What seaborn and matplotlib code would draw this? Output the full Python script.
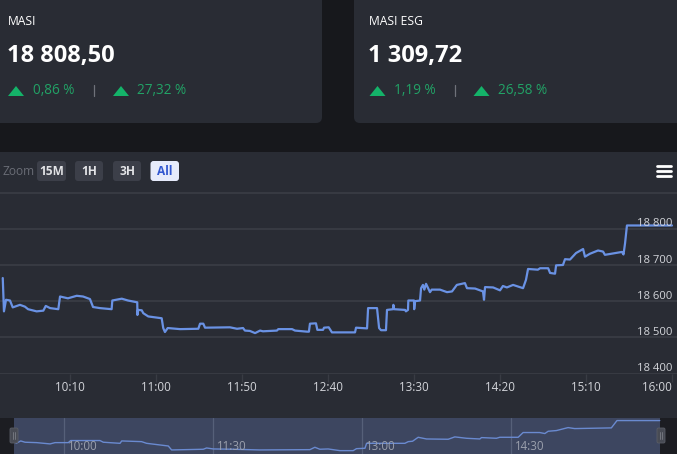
import matplotlib
matplotlib.use("Agg")
import matplotlib.pyplot as plt
import pandas as pd
import seaborn as sns
from matplotlib.patches import FancyBboxPatch, Polygon, Rectangle

# minutes after 09:00
minutes = [30.9, 31.6, 32.8, 35.1, 36.7, 40.9, 43.8, 45.6, 50.6, 54.5, 55.9, 58.4, 63.2, 64.2, 68.8,
           73.9, 77.6, 81.6, 83.4, 87.4, 94.2, 94.6, 100.1, 103.7, 109.1, 109.2, 109.5, 111.7, 112.6,
           115.5, 123.3, 124.2, 125.2, 126.8, 134, 144.6, 145.6, 147.5, 148.5, 163, 167.1, 170.6,
           171.7, 174.6, 177.6, 180.5, 182.2, 190.3, 191.1, 199.1, 200.8, 207.8, 208.9, 209.5, 213,
           213.8, 217.1, 217.7, 220.4, 222.3, 235.7, 236.3, 242.7, 243.3, 248.5, 249.7, 250.8, 253.7,
           254.3, 257.8, 258, 258.4, 264.8, 265.3, 266.5, 266.7, 270, 270.1, 270.6, 273.5, 274.1,
           275.2, 276, 277, 279.3, 280.3, 285.1, 289.2, 292.1, 294.9, 299.6, 300.8, 305.5, 310.1,
           310.7, 311.3, 316, 320, 321.7, 324, 327.6, 333.4, 335.1, 336.3, 342, 343.3, 348, 349.1,
           352, 352.6, 356.6, 357.8, 360.7, 364.2, 368.3, 369.4, 372.3, 377, 379.9, 381, 390.9,
           391.8, 392.7, 393.8, 420]
masi = [18664, 18572, 18604, 18602, 18583, 18590, 18585, 18578, 18572, 18574, 18587, 18581, 18578, 18613, 18608,
        18615, 18613, 18606, 18584, 18581, 18578, 18602, 18607, 18602, 18597, 18562, 18576, 18575, 18567,
        18558, 18553, 18526, 18515, 18526, 18523, 18524, 18538, 18538, 18527, 18528, 18524, 18526,
        18519, 18518, 18512, 18519, 18517, 18519, 18523, 18523, 18519, 18516, 18516, 18538, 18539,
        18521, 18521, 18527, 18528, 18514, 18514, 18527, 18525, 18581, 18581, 18526, 18520, 18520,
        18576, 18578, 18590, 18578, 18576, 18572, 18576, 18602, 18602, 18578, 18600, 18602, 18636,
        18645, 18632, 18648, 18625, 18632, 18632, 18625, 18627, 18645, 18650, 18636, 18635, 18627,
        18604, 18639, 18638, 18630, 18642, 18638, 18645, 18636, 18659, 18689, 18687, 18691, 18691, 18678,
        18676, 18699, 18700, 18716, 18715, 18733, 18744, 18723, 18731, 18740, 18737, 18728, 18736,
        18729, 18760, 18809, 18809]

# navigator series is a coarser, smoothed copy of the day
nav_minutes = [31.4, 34.2, 36.8, 43.8, 51.9, 54.9, 62.9, 64.3, 82, 84, 94.1, 95.1, 107.1, 110.1, 123.2, 125.2,
               144.3, 146.3, 150.3, 162.4, 178.4, 208.6, 211.6, 214.6, 219.6, 226.7, 234.7, 236.7, 241.8, 242.8,
               265.9, 267.9, 270.5, 273.9, 278.9, 292, 296, 303, 311.1, 312.1, 321.1, 323.1, 334.2, 337.2,
               347.2, 350.3, 352.3, 357.3, 364.3, 368.3, 390.4, 393.8, 419.6]
nav_values = [18578, 18602, 18589, 18585, 18572, 18585, 18585, 18606, 18606, 18589, 18578, 18602, 18595, 18578,
              18551, 18511, 18518, 18531, 18521, 18518, 18511, 18514, 18538, 18518, 18521, 18504, 18504, 18524,
              18528, 18578, 18578, 18595, 18599, 18639, 18622, 18619, 18643, 18629, 18622, 18636, 18629, 18639,
              18639, 18687, 18687, 18677, 18700, 18707, 18737, 18727, 18734, 18808, 18808]

y_ticks = [18400, 18500, 18600, 18700, 18800, 18900]
y_labels = ["18 400", "18 500", "18 600", "18 700", "18 800", ""]
x_ticks = [70, 120, 170, 220, 270, 320, 370, 420]
x_labels = ["10:10", "11:00", "11:50", "12:40", "13:30", "14:20", "15:10", "16:00"]
nav_ticks = [60, 150, 240, 330]
nav_labels = ["10:00", "11:30", "13:00", "14:30"]

df = pd.DataFrame({"minute": minutes, "masi": masi})
nav_df = pd.DataFrame({"minute": nav_minutes, "masi": nav_values})

PAGE = "#17181c"
CARD = "#292c34"
GREEN_TXT = "#22a266"
GREEN = "#14b369"
LINE = "#6a92e4"
GRID = "#393c44"
W, H = 677, 454

sns.set_theme(style="dark")
plt.rcParams["font.family"] = ["Open Sans", "DejaVu Sans"]

fig = plt.figure(figsize=(W / 100, H / 100), dpi=100, facecolor=PAGE)


def axes_px(left, top, right, bottom):
    return fig.add_axes([left / W, 1 - bottom / H, (right - left) / W, (bottom - top) / H])


# page furniture in pixel coordinates
bg = fig.add_axes([0, 0, 1, 1], facecolor=PAGE)
bg.set_xlim(0, W)
bg.set_ylim(H, 0)
bg.axis("off")


def rounded(x0, y0, x1, y1, r, color, **kw):
    bg.add_patch(FancyBboxPatch((x0 + r, y0 + r), x1 - x0 - 2 * r, y1 - y0 - 2 * r,
                                boxstyle=f"round,pad={r},rounding_size={r}",
                                fc=color, ec="none", **kw))


rounded(-20, -20, 322, 123, 6, CARD)
rounded(354, -20, 700, 123, 6, CARD)
bg.add_patch(Rectangle((0, 152), W, H - 152, fc=CARD, ec="none"))


def card(x, name, value, pct1, pct2, sep_x, tri2_x, pct2_x):
    bg.text(x - 0.5, 21.5, name, color="white", fontsize=8.7, va="center")
    bg.text(x - 1, 56, value, color="white", fontsize=17, fontweight="bold", va="center")
    for tx in (x, tri2_x):
        bg.add_patch(Polygon([(tx, 96), (tx + 16, 96), (tx + 8, 86)], fc=GREEN, ec="none"))
    bg.text(x + 25, 91, pct1, color=GREEN_TXT, fontsize=9.8, va="center")
    bg.plot([sep_x, sep_x], [85, 96], color="#6f727a", lw=0.9)
    bg.text(pct2_x, 91, pct2, color=GREEN_TXT, fontsize=9.8, va="center")


card(8, "MASI", "18 808,50", "0,86 %", "27,32 %", 93.5, 113, 137)
card(369.5, "MASI ESG", "1 309,72", "1,19 %", "26,58 %", 454.5, 473.5, 498)

# zoom buttons
bg.text(2.5, 171.5, "Zoom", color="#6a6d76", fontsize=8.6, va="center")
buttons = [("15M", 37, 66), ("1H", 75, 103), ("3H", 113, 141), ("All", 150.5, 179)]
for label, x0, x1 in buttons:
    active = label == "All"
    rounded(x0, 161, x1, 181, 3, "#e6ebfb" if active else "#3c3f49")
    bg.text((x0 + x1) / 2, 171.5, label, color="#3358d0" if active else "#e2e3e6",
            fontsize=8.6, fontweight="bold", ha="center", va="center")

# menu icon
for y in (166, 171, 176):
    bg.plot([657, 671], [y, y], color="white", lw=2.0, solid_capstyle="round")

# main chart
ax = axes_px(0, 192.5, W, 373.7)
ax.patch.set_alpha(0)
sns.lineplot(data=df, x="minute", y="masi", color=LINE, lw=1.6, estimator=None, sort=False, ax=ax)
ax.set_xlim(29.3, 422.9)
ax.set_ylim(18400, 18900)
ax.set_xlabel("")
ax.set_ylabel("")
ax.set_yticks(y_ticks)
ax.set_yticklabels([])
ax.grid(axis="y", color=GRID, lw=1.3)
ax.grid(axis="x", visible=False)
ax.set_axisbelow(True)
for s in ax.spines.values():
    s.set_visible(False)
ax.tick_params(axis="y", length=0)
ax.set_xticks(x_ticks)
ax.set_xticklabels(x_labels, color="#d3d5da", fontsize=8.4)
ax.tick_params(axis="x", length=5.8, width=0.9, color=GRID, pad=-0.5, bottom=True)
ax.get_xticklabels()[-1].set_ha("right")
ax.get_xticklabels()[-1].set_x(423)
for v, lab in zip(y_ticks, y_labels):
    ax.annotate(lab, xy=(672.5 / W, v), xycoords=ax.get_yaxis_transform(), xytext=(0, 3.5),
                textcoords="offset points", ha="right", va="center", color="#d3d5da", fontsize=8.1)

# navigator
nav = axes_px(0, 418, W, H)
nav.set_facecolor("#1c1d22")
nav.axvspan(30, 420, color="#3d4660", lw=0, zorder=0)
sns.lineplot(data=nav_df, x="minute", y="masi", color="#6a8ad0", lw=1.0, estimator=None, sort=False, ax=nav)
nav.set_xlim(21.7, 430)
nav.set_ylim(18470, 18834)
nav.set_xlabel("")
nav.set_ylabel("")
nav.set_yticks([])
nav.set_xticks(nav_ticks)
nav.set_xticklabels([])
nav.tick_params(axis="x", length=0)
nav.grid(axis="x", color="#566079", lw=0.9)
nav.grid(axis="y", visible=False)
nav.set_axisbelow(True)
for s in nav.spines.values():
    s.set_visible(False)
for t, lab in zip(nav_ticks, nav_labels):
    nav.annotate(lab, xy=(t, 0.2), xycoords=nav.get_xaxis_transform(), xytext=(3, 0),
                 textcoords="offset points", color="#9ba0ad", fontsize=8.3, va="center")

# navigator handles, on top of everything
top = fig.add_axes([0, 0, 1, 1])
top.patch.set_alpha(0)
top.set_xlim(0, W)
top.set_ylim(H, 0)
top.axis("off")
for x0 in (10, 657):
    top.add_patch(FancyBboxPatch((x0 + 1, 429), 6, 13, boxstyle="round,pad=1,rounding_size=1.5",
                                 fc="#484b54", ec="#5a5d66", lw=0.6))
    for dx in (3, 5):
        top.plot([x0 + dx, x0 + dx], [432, 439], color="#7b7e86", lw=0.6)

fig.savefig("out.png", dpi=100, facecolor=PAGE)
